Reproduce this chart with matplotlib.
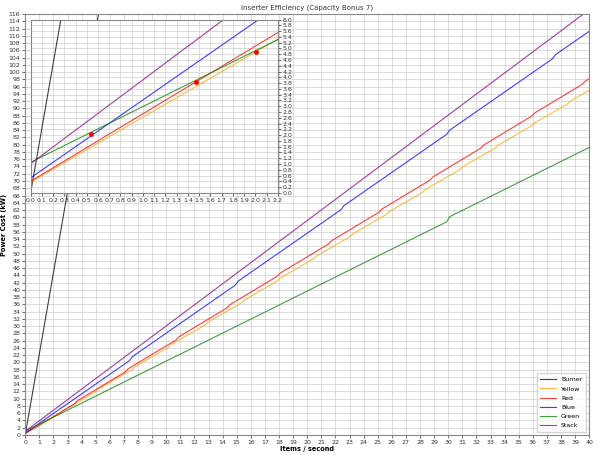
import numpy as np
import matplotlib
matplotlib.use("Agg")
import matplotlib.pyplot as plt

# breakpoints (items/s -> kW)
burner_x = [0.0, 5.2]
burner_y = [0.0, 116.0]

yellow_x = [0.0, 2.47, 2.67, 5.04, 5.24, 7.61, 7.81, 10.19, 10.39, 12.76, 12.96,
            15.33, 15.53, 17.9, 18.1, 20.47, 20.67, 23.04, 23.24, 25.61, 25.81,
            28.19, 28.39, 30.76, 30.96, 33.33, 33.53, 35.9, 36.1, 38.47, 38.67, 40.0]
yellow_y = [0.37, 5.93, 6.69, 12.02, 12.78, 18.11, 18.87, 24.23, 24.99, 30.32, 31.08,
            36.41, 37.17, 42.51, 43.27, 48.60, 49.36, 54.69, 55.45, 60.78, 61.54,
            66.90, 67.66, 72.99, 73.75, 79.08, 79.84, 85.18, 85.94, 91.27, 92.03, 95.02]

red_x = [0.0, 3.5, 3.7, 7.1, 7.3, 10.7, 10.9, 14.3, 14.5, 17.9, 18.1, 21.5, 21.7,
         25.1, 25.3, 28.7, 28.9, 32.3, 32.5, 35.9, 36.1, 39.5, 39.7, 40.0]
red_y = [0.40, 8.59, 9.44, 17.39, 18.24, 26.20, 27.05, 35.00, 35.85, 43.81, 44.65,
         52.61, 53.46, 61.41, 62.26, 70.22, 71.07, 79.02, 79.87, 87.83, 88.67,
         96.63, 97.48, 98.18]

blue_x = [0.0, 7.4, 7.6, 14.9, 15.1, 22.4, 22.6, 29.9, 30.1, 37.4, 37.6, 40.0]
blue_y = [0.52, 20.50, 21.59, 41.30, 42.39, 62.10, 63.19, 82.90, 83.99, 103.70,
          104.79, 111.27]

green_x = [0.0, 29.9, 30.1, 40.0]
green_y = [1.06, 58.77, 60.15, 79.26]

stack_x = [0.0, 40.0]
stack_y = [1.01, 117.2]

# crossing points marked in the zoomed view
cross_x = [0.54, 1.47, 2.01]
cross_y = [2.04, 3.85, 4.88]

series = [
    ("Burner", burner_x, burner_y, "black"),
    ("Yellow", yellow_x, yellow_y, "orange"),
    ("Red", red_x, red_y, "red"),
    ("Blue", blue_x, blue_y, "blue"),
    ("Green", green_x, green_y, "green"),
    ("Stack", stack_x, stack_y, "purple"),
]

grid_col = "#d2d2d2"
spine_col = "#888888"

fig = plt.figure(figsize=(6.0, 4.55), dpi=100)
ax = fig.add_axes([0.042, 0.044, 0.940, 0.925])

for name, xs, ys, col in series:
    ax.plot(xs, ys, color=col, lw=0.8, alpha=0.75, label=name)

ax.set_xlim(0, 40)
ax.set_ylim(0, 116)
ax.set_xticks(np.arange(0, 41, 1))
ax.set_yticks(np.arange(0, 117, 2))
ax.tick_params(labelsize=4.5, length=2, width=0.5, pad=1.5, colors="#333333")
ax.grid(True, color=grid_col, lw=0.55)
for s in ax.spines.values():
    s.set_color(spine_col)
ax.set_title("Inserter Efficiency (Capacity Bonus 7)", fontsize=5, pad=3, color="#333333")
ax.set_xlabel("Items / second", fontsize=4.8, fontweight="bold", labelpad=1)
ax.set_ylabel("Power Cost (kW)", fontsize=4.8, fontweight="bold", labelpad=1)
leg = ax.legend(loc="lower right", fontsize=4.5, handlelength=2.5, borderpad=0.6,
                labelspacing=0.6, fancybox=False)
leg.get_frame().set_edgecolor("#cccccc")

# zoomed view near the origin
ins = fig.add_axes([0.051, 0.576, 0.412, 0.381])
for name, xs, ys, col in series:
    ins.plot(xs, ys, color=col, lw=0.8, alpha=0.75)
ins.plot(cross_x, cross_y, "o", color="red", ms=2.5)
ins.set_xlim(0, 2.2)
ins.set_ylim(0, 6.0)
ins.set_xticks(np.arange(0, 2.21, 0.1))
ins.set_yticks(np.arange(0, 6.01, 0.2))
ins.xaxis.set_major_formatter("{x:.1f}")
ins.yaxis.set_major_formatter("{x:.1f}")
ins.yaxis.tick_right()
ins.tick_params(labelsize=4.5, length=2, width=0.5, pad=1.5, colors="#333333")
ins.grid(True, color=grid_col, lw=0.55)
for s in ins.spines.values():
    s.set_color(spine_col)

fig.savefig("out.png", dpi=100)
